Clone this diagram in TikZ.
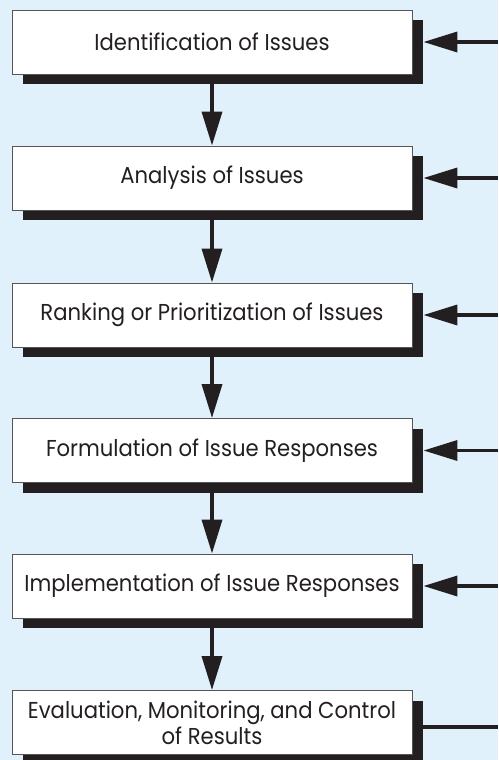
\documentclass[tikz,border=0pt]{standalone}
\usepackage{fontspec}
\setmainfont[FakeStretch=0.92]{Poppins}
\usetikzlibrary{arrows.meta,shadows}
\definecolor{bgblue}{HTML}{E0F1FB}
\definecolor{ink}{HTML}{231F20}
\definecolor{edge}{HTML}{555555}
\tikzset{
  box/.style={draw=edge, line width=0.9pt, fill=white, minimum width=400pt, minimum height=64pt,
    inner sep=0pt, align=center, text=ink, font=\fontsize{23}{26}\selectfont,
    drop shadow={shadow xshift=11pt, shadow yshift=-10pt, fill=ink, opacity=1}},
  flow/.style={draw=ink, line width=3.6pt, -{Triangle[length=34pt,width=20pt]}},
  plain/.style={draw=ink, line width=3.6pt}
}
\begin{document}
\begin{tikzpicture}[x=1pt,y=-1pt]
\fill[bgblue] (0,0) rectangle (498,760);
\useasboundingbox (0,0) rectangle (498,760);
\node[box] (b1) at (212,42) {Identification of Issues};
\node[box] (b2) at (212,178) {Analysis of Issues};
\node[box] (b3) at (212,315) {Ranking or Prioritization of Issues};
\node[box] (b4) at (212,450.5) {Formulation of Issue Responses};
\node[box] (b5) at (212,586) {Implementation of Issue Responses};
\node[box] (b6) at (212,722.5) {Evaluation, Monitoring, and Control\\of Results};
\foreach \a/\b in {b1/b2,b2/b3,b3/b4,b4/b5,b5/b6}
  \draw[flow] ([yshift=-10pt]\a.south) -- (\b.north);
\foreach \n in {1,...,5}{
  \coordinate (r\n) at (498,0 |- b\n.east);
  \draw[flow] (r\n) -- ([xshift=11pt]b\n.east);
}
\coordinate (r6) at (498,727);
\coordinate (s6) at ([xshift=11pt]b6.east);
\draw[plain] (r6) -- (r6 -| s6);
\end{tikzpicture}
\end{document}
